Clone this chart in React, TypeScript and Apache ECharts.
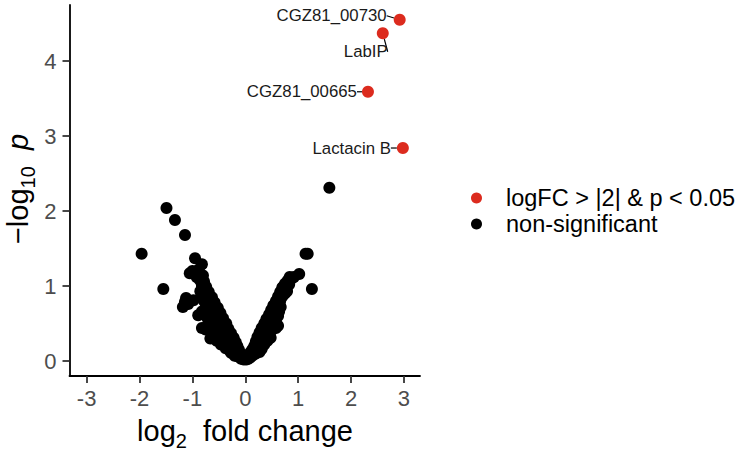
import React, { useEffect, useRef } from "react";
import * as echarts from "echarts";

const FONT = "'Liberation Sans', Arial, Helvetica, sans-serif";

// Significant genes (red)
const sigNames = ["CGZ81_00730", "LabIP", "CGZ81_00665", "Lactacin B"];
const sigX = [2.92, 2.6, 2.32, 2.98];
const sigY = [4.55, 4.37, 3.59, 2.84];

// Non-significant genes: left arm of the V
const nsLeftArm: number[][] = [
  [-0.03, 0.02], [-0.08, 0.03],
  [-0.06, 0.06], [-0.14, 0.06], [-0.2, 0.07],
  [-0.09, 0.1], [-0.18, 0.1], [-0.27, 0.11],
  [-0.12, 0.15], [-0.22, 0.15], [-0.31, 0.15], [-0.37, 0.17],
  [-0.15, 0.2], [-0.25, 0.2], [-0.36, 0.21], [-0.46, 0.22],
  [-0.18, 0.25], [-0.3, 0.25], [-0.42, 0.25], [-0.54, 0.27],
  [-0.22, 0.31], [-0.34, 0.31], [-0.47, 0.3], [-0.6, 0.31],
  [-0.27, 0.37], [-0.38, 0.37], [-0.5, 0.36], [-0.62, 0.36],
  [-0.32, 0.43], [-0.44, 0.43], [-0.56, 0.42], [-0.67, 0.43], [-0.75, 0.42],
  [-0.36, 0.5], [-0.48, 0.5], [-0.6, 0.49], [-0.7, 0.5],
  [-0.42, 0.57], [-0.53, 0.57], [-0.64, 0.56], [-0.72, 0.58],
  [-0.47, 0.64], [-0.58, 0.64], [-0.7, 0.64], [-0.82, 0.66],
  [-0.52, 0.71], [-0.63, 0.71], [-0.74, 0.72],
  [-0.58, 0.78], [-0.68, 0.78], [-0.78, 0.8],
  [-0.63, 0.85], [-0.73, 0.86], [-0.82, 0.87],
  [-0.69, 0.92], [-0.78, 0.93], [-0.85, 0.93],
  [-0.74, 0.99], [-0.82, 1.0],
  [-0.78, 1.06], [-0.86, 1.08],
  [-0.8, 1.14], [-0.92, 1.12], [-0.88, 1.22], [-1.0, 1.2], [-1.05, 1.17],
  [-0.82, 1.29], [-0.95, 1.37],
  [-0.98, 0.81], [-1.08, 0.76], [-1.14, 0.79], [-1.18, 0.72], [-1.12, 0.84],
  [-0.89, 0.61], [-0.82, 0.44], [-0.66, 0.3],
];

// Non-significant genes: right arm of the V
const nsRightArm: number[][] = [
  [0.02, 0.02], [0.06, 0.03], [0.05, 0.07], [0.1, 0.05], [0.09, 0.11],
  [0.15, 0.08], [0.13, 0.15], [0.2, 0.1], [0.27, 0.12],
  [0.17, 0.2], [0.24, 0.18], [0.31, 0.16],
  [0.2, 0.26], [0.28, 0.24], [0.36, 0.22],
  [0.23, 0.32], [0.32, 0.3], [0.42, 0.27], [0.48, 0.31],
  [0.27, 0.38], [0.36, 0.37], [0.45, 0.36],
  [0.31, 0.44], [0.4, 0.43], [0.5, 0.41], [0.58, 0.44],
  [0.36, 0.5], [0.45, 0.49], [0.54, 0.49], [0.62, 0.47],
  [0.4, 0.56], [0.49, 0.56], [0.58, 0.55],
  [0.45, 0.62], [0.54, 0.62], [0.62, 0.6],
  [0.49, 0.68], [0.58, 0.68], [0.64, 0.66],
  [0.53, 0.74], [0.62, 0.74], [0.67, 0.72],
  [0.58, 0.8], [0.66, 0.8],
  [0.62, 0.86], [0.7, 0.86],
  [0.66, 0.92], [0.75, 0.9], [0.79, 0.93],
  [0.7, 0.98], [0.78, 0.98], [0.72, 0.99],
  [0.75, 1.03], [0.83, 1.02],
  [0.8, 1.07], [0.88, 1.1], [0.84, 1.12], [0.92, 1.12],
];

// Non-significant scattered outliers
const nsOutliers: number[][] = [
  [-1.96, 1.43], [-1.55, 0.96], [-1.49, 2.04], [-1.33, 1.88], [-1.14, 1.68],
  [1.02, 1.16], [1.14, 1.43], [1.18, 1.43], [1.26, 0.96], [1.59, 2.31],
];

const xTicks = [-3, -2, -1, 0, 1, 2, 3];
const yTicks = [0, 1, 2, 3, 4];

const SIG_NAME = "logFC > |2| & p < 0.05";
const NS_NAME = "non-significant";

// label placement (ggrepel-like nudges)
const labelPlacement = [
  { position: "left", dx: -2, dy: -4 },
  { position: "bottom", dx: -17, dy: -1 },
  { position: "left", dx: 0, dy: 0 },
  { position: "left", dx: -1, dy: 0 },
];

export default function App() {
  const ref = useRef<HTMLDivElement>(null);

  useEffect(() => {
    if (!ref.current) return;
    const chart = echarts.init(ref.current, undefined, { renderer: "svg" });

    const nsData = [...nsLeftArm, ...nsRightArm, ...nsOutliers];
    const sigData = sigNames.map((n, i) => ({
      name: n,
      value: [sigX[i], sigY[i]],
      label: { position: labelPlacement[i].position as any },
    }));

    chart.setOption({
      animation: false,
      textStyle: { fontFamily: FONT },
      grid: {
        left: 69.5,
        right: 319,
        top: 5,
        bottom: 76,
        containLabel: false,
        outerBoundsMode: "none",
      } as any,
      legend: {
        orient: "vertical",
        left: 471,
        top: 185,
        padding: 0,
        itemWidth: 11,
        itemHeight: 11,
        itemGap: 0,
        icon: "circle",
        selectedMode: false,
        data: [SIG_NAME, NS_NAME],
        textStyle: {
          fontSize: 23.5,
          lineHeight: 26,
          color: "#000",
          fontFamily: FONT,
          padding: [0, 0, 0, 19],
        },
      },
      xAxis: {
        type: "value",
        min: -3.324,
        max: 3.304,
        splitLine: { show: false },
        axisLine: { onZero: false, lineStyle: { color: "#000", width: 1.8 } },
        axisTick: {
          customValues: xTicks,
          length: 7,
          lineStyle: { color: "#333", width: 1.8 },
        },
        axisLabel: {
          customValues: xTicks,
          fontSize: 22,
          color: "#4D4D4D",
          margin: 11,
          fontFamily: FONT,
        },
      },
      yAxis: {
        type: "value",
        min: -0.2,
        max: 4.747,
        splitLine: { show: false },
        axisLine: { onZero: false, lineStyle: { color: "#000", width: 1.8 } },
        axisTick: {
          customValues: yTicks,
          length: 7,
          lineStyle: { color: "#333", width: 1.8 },
        },
        axisLabel: {
          customValues: yTicks,
          fontSize: 22,
          color: "#4D4D4D",
          margin: 13,
          fontFamily: FONT,
        },
      },
      graphic: [
        {
          type: "text",
          x: 245,
          y: 431,
          silent: true,
          style: {
            text: "{m|log}{s|2}{m|  fold change}",
            align: "center",
            verticalAlign: "middle",
            rich: {
              m: { fontSize: 29, fill: "#000", fontFamily: FONT },
              s: { fontSize: 20, fill: "#000", fontFamily: FONT, padding: [20, 0, 0, 0] },
            },
          },
        },
        {
          type: "text",
          x: 18,
          y: 189,
          rotation: Math.PI / 2,
          silent: true,
          style: {
            text: "{m|\u2212log}{s|10}{m|  }{i|p}",
            align: "center",
            verticalAlign: "middle",
            rich: {
              m: { fontSize: 29, fill: "#000", fontFamily: FONT },
              s: { fontSize: 20, fill: "#000", fontFamily: FONT, padding: [20, 0, 0, 0] },
              i: { fontSize: 29, fill: "#000", fontFamily: FONT, fontStyle: "italic" },
            },
          },
        },
      ],
      series: [
        {
          name: NS_NAME,
          type: "scatter",
          symbol: "circle",
          symbolSize: 12,
          data: nsData,
          itemStyle: { color: "#000", opacity: 1 },
          emphasis: { disabled: true },
          z: 2,
        },
        {
          name: SIG_NAME,
          type: "scatter",
          symbol: "circle",
          symbolSize: 12,
          data: sigData,
          itemStyle: { color: "#DC2B1E", opacity: 1 },
          emphasis: { disabled: true },
          z: 3,
          label: {
            show: true,
            formatter: "{b}",
            fontSize: 16.8,
            color: "#1a1a1a",
            fontFamily: FONT,
            distance: 5,
          },
          labelLine: {
            show: true,
            lineStyle: { color: "#000", width: 1.2 },
          },
          labelLayout: (params: any) => ({
            dx: labelPlacement[params.dataIndex].dx,
            dy: labelPlacement[params.dataIndex].dy,
          }),
        },
      ],
    });

    return () => chart.dispose();
  }, []);

  return (
    <div
      ref={ref}
      style={{ position: "fixed", left: 0, top: 0, width: 739, height: 452, background: "#fff" }}
    />
  );
}
